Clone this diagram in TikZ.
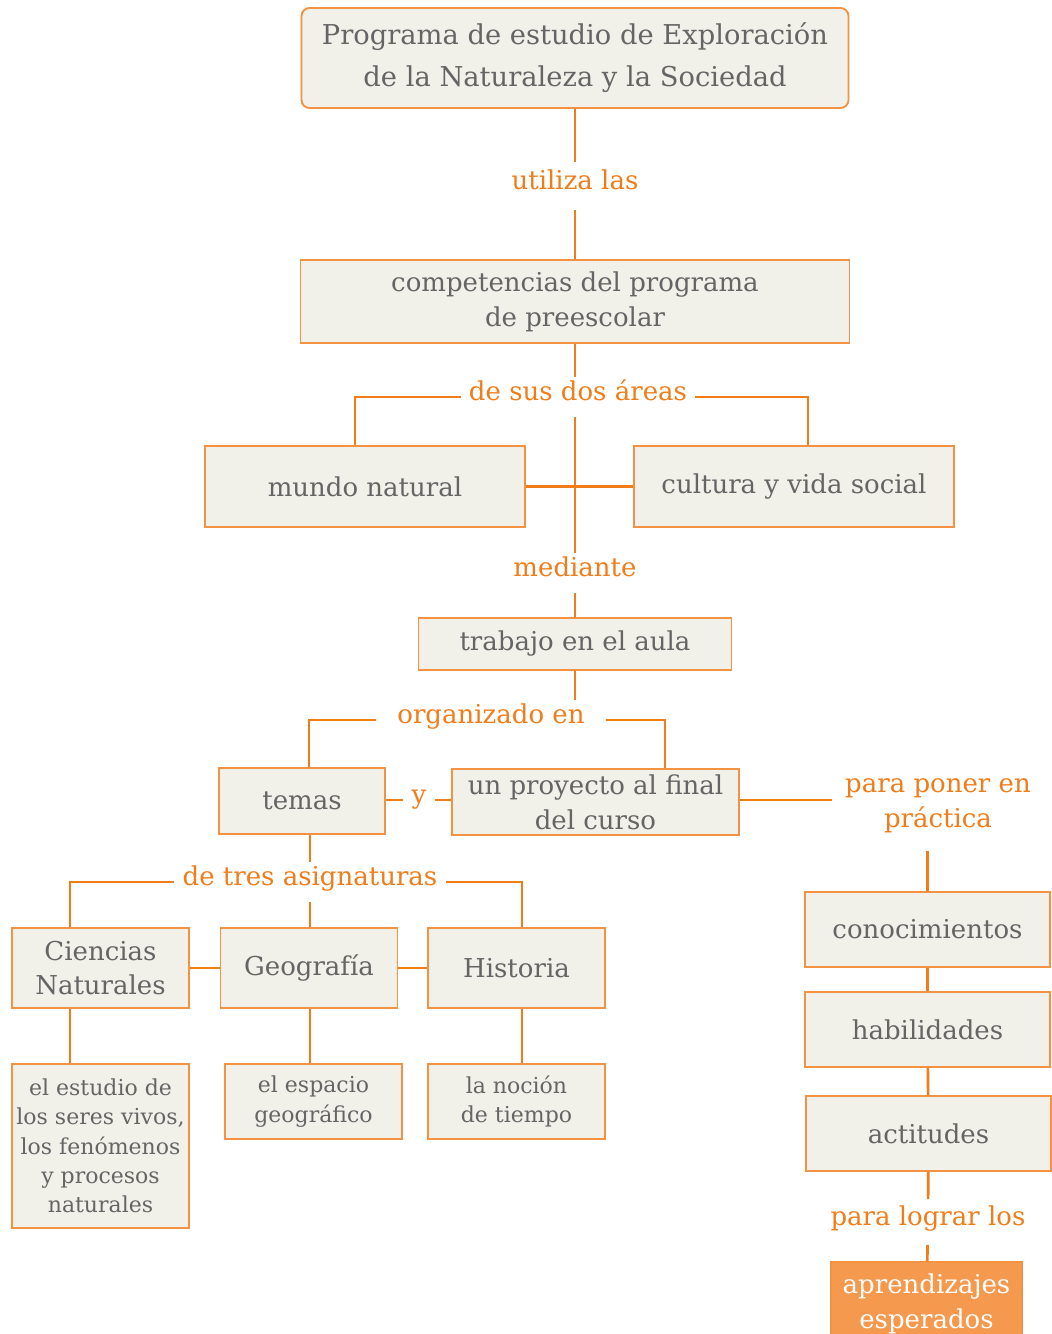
\documentclass[tikz,border=0pt]{standalone}
\usepackage{fontspec}
\setmainfont{DejaVu Serif}
\definecolor{naranja}{HTML}{F07D1A}
\definecolor{borde}{HTML}{F39242}
\definecolor{fondo}{HTML}{F2F1E9}
\definecolor{gris}{HTML}{656565}
\definecolor{meta}{HTML}{F5994E}
\tikzset{
  sz/.style 2 args={minimum width=#1*0.75pt,minimum height=#2*0.75pt},
  caja/.style={draw=borde,fill=fondo,text=gris,line width=1.4pt,inner sep=0pt,align=center,
    font=\fontsize{19.5}{26}\selectfont},
  hoja/.style={font=\fontsize{16.5}{22}\selectfont},
  enlace/.style={text=naranja,align=center,inner xsep=6pt,inner ysep=10pt,text height=0.75em,text depth=0.25em,
    font=\fontsize{19.5}{26}\selectfont}
}
\begin{document}
\begin{tikzpicture}[x=0.75pt,y=-0.75pt]
   \useasboundingbox[fill=white] (0,0) rectangle (1052,1334);
   \begin{scope}[every node/.style={caja}]
    \node[sz={547}{100},rounded corners=6pt,font=\fontsize{20.5}{31.5}\selectfont] (prog) at (575,58) {Programa de estudio de Exploración\\de la Naturaleza y la Sociedad};
    \node[sz={549}{83}] (comp) at (575,301.5) {competencias del programa\\de preescolar};
    \node[sz={320}{81}] (mundo) at (365,486.5) {mundo natural};
    \node[sz={320}{81}] (cultura) at (794,486.5) {cultura y vida social};
    \node[sz={313}{52}] (trabajo) at (575,644) {trabajo en el aula};
    \node[sz={166}{66}] (temas) at (302,801) {temas};
    \node[sz={287}{66}] (proyecto) at (595.5,802) {un proyecto al final\\del curso};
    \node[sz={245}{75}] (conoc) at (927.5,929.5) {conocimientos};
    \node[sz={245}{75}] (habil) at (927.5,1029.5) {habilidades};
    \node[sz={245}{75}] (actit) at (928.5,1133.5) {actitudes};
    \node[sz={191}{83},fill=meta,text=white] (aprend) at (926.5,1303.5) {aprendizajes\\esperados};
    \node[sz={177}{80}] (ciencias) at (100.5,968) {Ciencias\\Naturales};
    \node[sz={177}{80}] (geo) at (309,968) {Geografía};
    \node[sz={177}{80}] (hist) at (516.5,968) {Historia};
    \node[sz={177}{164},hoja] (estudio) at (100.5,1146) {el estudio de\\los seres vivos,\\los fenómenos\\y procesos\\naturales};
    \node[sz={177}{75},hoja] (espacio) at (313.5,1101.5) {el espacio\\geográfico};
    \node[sz={177}{75},hoja] (nocion) at (516.5,1101.5) {la noción\\de tiempo};
   \end{scope}
   \begin{scope}[every node/.style={enlace}]
    \node[inner ysep=13pt] (utiliza) at (575,186) {utiliza las};
    \node (areas) at (578,397) {de sus dos áreas};
    \node (mediante) at (575,573) {mediante};
    \node[inner xsep=16pt] (organizado) at (491,720) {organizado en};
    \node (y) at (419,800) {y};
    \node[inner xsep=10pt,inner ysep=15pt] (practica) at (938,824) {para poner en\\práctica};
    \node[inner ysep=12pt] (lograr) at (928,1222) {para lograr los};
    \node (tres) at (310,882) {de tres asignaturas};
   \end{scope}
   \begin{scope}[draw=naranja,line width=2pt]
    \draw (prog) -- (utiliza);
    \draw (utiliza) -- (comp);
    \draw (comp) -- (comp |- areas.north);
    \draw (comp |- areas.south) -- (mediante);
    \draw (mundo) -- (cultura);
    \draw (areas.west) -| ([xshift=-7.5pt]mundo.north);
    \draw (areas.east) -| ([xshift=10.5pt]cultura.north);
    \draw (mediante) -- (trabajo);
    \draw (trabajo) -- (trabajo |- organizado.north);
    \draw (organizado.west) -| ([xshift=5.25pt]temas.north);
    \draw (organizado.east) -| ([xshift=52pt]proyecto.north);
    \draw (y.west) -- (y.west -| temas.east);
    \draw (y.east) -- (y.east -| proyecto.west);
    \draw (proyecto.east |- y) -- (y -| practica.west);
    \draw (practica.south -| conoc) -- (conoc);
    \draw (conoc) -- (habil);
    \draw (habil) -- (actit);
    \draw (actit) -- (lograr);
    \draw (lograr) -- (aprend);
    \draw (temas.south -| tres) -- (tres);
    \draw (tres) -- (tres |- geo.north);
    \draw (tres.west) -| ([xshift=-22.9pt]ciencias.north);
    \draw (tres.east) -| ([xshift=4.1pt]hist.north);
    \draw (ciencias) -- (geo);
    \draw (geo) -- (hist);
    \draw ([xshift=-22.9pt]ciencias.south) -- ([xshift=-22.9pt]estudio.north);
    \draw (geo.south -| tres) -- (tres |- espacio.north);
    \draw ([xshift=4.1pt]hist.south) -- ([xshift=4.1pt]nocion.north);
   \end{scope}
\end{tikzpicture}
\end{document}
